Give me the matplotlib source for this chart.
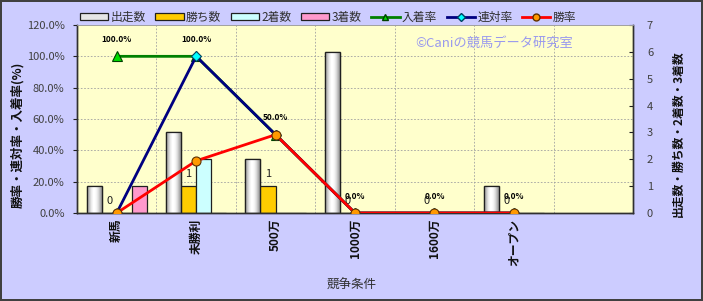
import numpy as np
import matplotlib
matplotlib.use("Agg")
import matplotlib.pyplot as plt
import matplotlib.transforms as mtransforms
from matplotlib.lines import Line2D
from matplotlib.patches import Patch
from matplotlib.ticker import MultipleLocator, FixedLocator

plt.rcParams['font.family'] = ['Noto Sans CJK JP', 'DejaVu Sans']

# data
classes = ['新馬', '未勝利', '500万', '1000万', '1600万', 'オープン']
runs = [1, 3, 2, 6, 0, 1]          # 出走数
wins = [0, 1, 1, 0, 0, 0]          # 勝ち数
seconds = [0, 2, 0, 0, 0, 0]       # 2着数
thirds = [1, 0, 0, 0, 0, 0]        # 3着数
place_rate = [100, 100, 50, 0, 0, 0]   # 入着率 %
rentai_rate = [0, 100, 50, 0, 0, 0]    # 連対率 %
win_rate = [0, 33.3, 50, 0, 0, 0]      # 勝率 %
pct_ticks = [0, 20, 40, 60, 80, 100, 120]

BG = '#CCCCFF'
PLOT_BG = '#FFFFCC'

fig = plt.figure(figsize=(7.03, 3.01), dpi=100, facecolor=BG,
                 edgecolor='#404040', linewidth=1.5)
ax = fig.add_axes([77/703, 88/301, 556/703, 188/301])   # counts (bars)
ax2 = ax.twinx()                                        # rates (lines)
ax.set_facecolor(PLOT_BG)

x = np.arange(len(classes))
w = 0.19

# horizontal grid on the bar axes at percent positions, so it stays behind bars
trans = mtransforms.blended_transform_factory(ax.transAxes, ax2.transData)
for p in pct_ticks[1:-1]:
    ax.plot([0, 1], [p, p], transform=trans, color='#A0A0A0', lw=0.6,
            ls=(0, (2, 2)), zorder=0.5)
ax.xaxis.set_minor_locator(FixedLocator(np.arange(0.5, len(classes), 1)))
ax.grid(which='minor', axis='x', color='#A0A0A0', lw=0.6, ls=(0, (2, 2)), zorder=0.5)

b_run = ax.bar(x - 1.5*w, runs, w, color='#E6E6E6', edgecolor='#202020', lw=0.9, zorder=2)
b_win = ax.bar(x - 0.5*w, wins, w, color='#FFCC00', edgecolor='#202020', lw=0.9, zorder=2)
ax.bar(x + 0.5*w, seconds, w, color='#CCFFFF', edgecolor='#202020', lw=0.9, zorder=2)
ax.bar(x + 1.5*w, thirds, w, color='#FF99CC', edgecolor='#202020', lw=0.9, zorder=2)

# shaded look for the 出走数 bars
grad = np.array([[0.62, 0.78, 0.92, 1.0, 1.0, 0.95, 0.85, 0.7, 0.55]])
for r in b_run:
    if r.get_height() <= 0:
        continue
    im = ax.imshow(grad, cmap='gray', vmin=0, vmax=1, aspect='auto',
                   extent=[r.get_x(), r.get_x() + r.get_width(), 0, r.get_height()],
                   zorder=2.1, interpolation='bilinear')
    im.set_clip_path(r)
    ax.bar(r.get_x() + r.get_width()/2, r.get_height(), r.get_width(),
           fill=False, edgecolor='#202020', lw=0.9, zorder=2.2)

for r, v in zip(b_win, wins):
    ax.annotate(f"{v}", (r.get_x() + r.get_width()/2, r.get_height()),
                xytext=(0, 8.5), textcoords='offset points', ha='center', va='center',
                fontsize=8, color='#202020', zorder=5)

ax.set_xlim(-0.5, 6.5)
ax.set_ylim(0, 7)
ax.yaxis.set_major_locator(MultipleLocator(1))
ax.yaxis.tick_right()
ax.yaxis.set_label_position('right')
ax.tick_params(axis='y', direction='in', length=3, pad=10, labelsize=8,
               labelcolor='#404040', color='#202020')
ax.set_xticks(x)
ax.set_xticklabels(classes, rotation=90, fontsize=8.5, fontweight='bold', color='#101010')
ax.tick_params(axis='x', which='both', length=0, pad=4)

# rate lines
ax2.plot(x, place_rate, color='#008000', lw=2, marker='^', ms=7,
         mfc='#00DD00', mec='#004000', mew=0.8, zorder=3)
ax2.plot(x, rentai_rate, color='#000080', lw=2, marker='D', ms=5,
         mfc='#00FFFF', mec='#004060', mew=0.8, zorder=4)
ax2.plot(x, win_rate, color='#FF0000', lw=2, marker='o', ms=6.5,
         mfc='#FF9900', mec='#603000', mew=0.8, zorder=5)
for xi, v in zip(x, place_rate):
    ax2.annotate(f"{v:.1f}%", (xi, v), xytext=(0, 12), textcoords='offset points',
                 ha='center', va='center', fontsize=6, fontweight='bold', color='black')

ax2.set_ylim(0, 120)
ax2.set_yticks(pct_ticks)
ax2.set_yticklabels([f"{p:.1f}%" for p in pct_ticks])
ax2.yaxis.tick_left()
ax2.tick_params(axis='y', direction='out', length=3, pad=6, labelsize=8,
                labelcolor='#404040', color='#202020')

for a in (ax, ax2):
    for s in ('left', 'right', 'bottom'):
        a.spines[s].set_color('#303030')
        a.spines[s].set_linewidth(1)
    a.spines['top'].set_color('#A0A0A0')
    a.spines['top'].set_linewidth(0.6)

ax2.text(0.75, 0.9, '©Caniの競馬データ研究室', transform=ax.transAxes,
         ha='center', va='center', fontsize=9.5, color='#9999EE')

fig.text(18/703, 1 - 135/301, '勝率・連対率・入着率(%)', rotation=90, ha='center',
         va='center', fontsize=9, fontweight='bold', color='#101010')
fig.text(678/703, 1 - 134/301, '出走数・勝ち数・2着数・3着数', rotation=90, ha='center',
         va='center', fontsize=8.5, fontweight='bold', color='#101010')
fig.text(352/703, 1 - 285/301, '競争条件', ha='center', va='center',
         fontsize=9, color='#303030')

handles = [
    Patch(facecolor='#E6E6E6', edgecolor='#202020', lw=0.9),
    Patch(facecolor='#FFCC00', edgecolor='#202020', lw=0.9),
    Patch(facecolor='#CCFFFF', edgecolor='#202020', lw=0.9),
    Patch(facecolor='#FF99CC', edgecolor='#202020', lw=0.9),
    Line2D([0], [0], color='#008000', lw=2, marker='^', ms=5, mfc='#00DD00', mec='#004000'),
    Line2D([0], [0], color='#000080', lw=2, marker='D', ms=4, mfc='#00FFFF', mec='#004060'),
    Line2D([0], [0], color='#FF0000', lw=2, marker='o', ms=5, mfc='#FF9900', mec='#603000'),
]
labels = ['出走数', '勝ち数', '2着数', '3着数', '入着率', '連対率', '勝率']
fig.legend(handles, labels, loc='center left', bbox_to_anchor=(80/703, 1 - 17/301),
           ncol=7, frameon=False, fontsize=8.5, handlelength=2.4, handleheight=0.5,
           handletextpad=0.2, columnspacing=0.8, borderaxespad=0, borderpad=0,
           labelcolor='#303030')

fig.savefig('out.png', dpi=100, facecolor=BG, edgecolor='#404040')
